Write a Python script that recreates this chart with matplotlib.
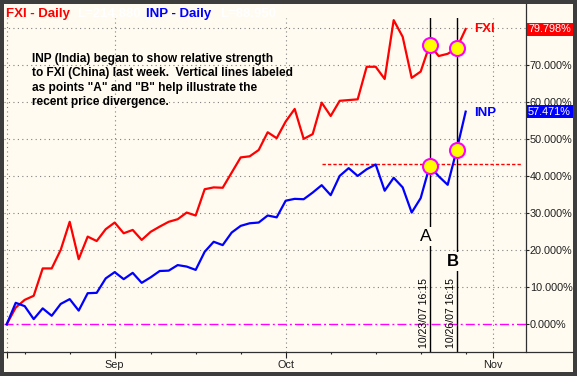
import matplotlib
matplotlib.use('Agg')
import matplotlib.pyplot as plt
import matplotlib.transforms as mtransforms
from matplotlib.patches import Rectangle
from matplotlib.lines import Line2D

plt.rcParams['font.family'] = ['Liberation Sans', 'DejaVu Sans']

# % change since 8/16/07, one value per trading day (8/16/07 .. 10/29/07)
fxi = [0.0, 4.5, 6.6, 7.7, 15.1, 15.1, 20.1, 27.7, 17.6, 23.7,
       22.5, 25.7, 27.5, 24.6, 25.5, 22.8, 25.0, 26.4, 27.7, 28.4,
       30.2, 29.4, 36.5, 37.0, 36.9, 41.0, 45.1, 45.4, 47.1, 51.9,
       50.3, 54.8, 58.2, 50.1, 51.4, 59.9, 56.3, 60.4, 60.6, 60.8,
       69.6, 69.6, 66.3, 82.2, 77.7, 66.6, 68.3, 75.5, 72.5, 73.1,
       74.6, 79.798]
inp = [0.0, 5.8, 4.9, 1.4, 4.3, 2.3, 5.5, 6.8, 3.7, 8.4,
       8.5, 12.4, 14.1, 12.2, 13.9, 11.2, 12.7, 14.4, 14.5, 16.0,
       15.6, 14.7, 19.6, 22.3, 21.4, 24.8, 26.6, 27.3, 27.5, 29.4,
       28.9, 33.4, 33.9, 33.8, 35.6, 37.6, 34.9, 40.1, 42.2, 40.1,
       41.9, 43.2, 36.1, 39.6, 37.0, 30.2, 34.1, 42.8, 40.0, 37.7,
       47.1, 57.471]

month_pos = [12, 31, 54]
month_labels = ['Sep', 'Oct', 'Nov']
week_pos = [2, 7, 16, 21, 26, 36, 41, 46, 51]
y_ticks = [0, 10, 20, 30, 40, 50, 60, 70, 80]

point_a = 47
point_b = 50
date_a = '10/23/07 16:15'
date_b = '10/26/07 16:15'
resistance = 43.2

cream = '#fffbf0'
border = '#3d3d3d'
W, H = 577, 376

fig = plt.figure(figsize=(W / 100, H / 100), dpi=100, facecolor=border)
fig.patches.append(Rectangle((4 / W, 4 / H), 569 / W, 368 / H, transform=fig.transFigure,
                             facecolor=cream, edgecolor='none', zorder=-5))

ax = fig.add_axes([4 / W, 24 / H, 521.7 / W, 334 / H])
ax.set_facecolor(cream)
for s in ax.spines.values():
    s.set_visible(False)

x = list(range(len(fxi)))
ax.set_xlim(-0.3, 57.67)
ax.set_ylim(-7.49, 82.78)

# grid
for v in y_ticks[1:]:
    ax.axhline(v, color='#808080', lw=0.8, ls=(0, (1, 3)), zorder=1)
for p in [0] + month_pos:
    ax.axvline(p, color='#808080', lw=0.8, ls=(0, (1, 3)), zorder=1)

ax.axhline(0, color='#ff00ff', lw=1.0, ls=(0, (6.5, 2.2, 1.4, 2.2)), zorder=2)

ax.plot(x, fxi, color='#ff0000', lw=1.6, zorder=4)
ax.plot(x, inp, color='#0000ff', lw=1.6, zorder=4)

ax.hlines(resistance, 35, 57.3, colors='#ff0000', lw=1.0, linestyles=(0, (2.4, 1.5)), zorder=3)

for p, label, weight, ylab, fs in [(point_a, 'A', 'normal', 23.7, 12.5),
                                     (point_b, 'B', 'bold', 16.9, 12)]:
    ax.axvline(p, color='black', lw=1.0, zorder=5)
    ax.text(p - 0.45, ylab, label, fontsize=fs, fontweight=weight, ha='center', va='center',
            zorder=6, bbox=dict(facecolor=cream, edgecolor='none', pad=1.5))

ax.text(point_a - 0.6, -6.5, date_a, rotation=90, fontsize=7.6, ha='center', va='bottom', zorder=6)
ax.text(point_b - 0.6, -6.5, date_b, rotation=90, fontsize=7.6, ha='center', va='bottom', zorder=6)

for p in [point_a, point_b]:
    ax.plot([p, p], [fxi[p], inp[p]], ls='none', marker='o', ms=10.8, mfc='#ffff00',
            mec='#ff00ff', mew=1.5, zorder=7)

ax.text(51.9, fxi[-1], 'FXI', color='#ff0000', fontsize=9.5, fontweight='bold', ha='left', va='center')
ax.text(51.9, inp[-1] - 0.3, 'INP', color='#0000ff', fontsize=9.5, fontweight='bold', ha='left', va='center')

# ticks (80% label sits under the FXI value box)
ax.yaxis.tick_right()
ax.set_yticks(y_ticks)
ax.set_yticklabels(['%.3f%%' % v if v < 80 else '' for v in y_ticks])
ax.tick_params(axis='y', length=2.5, width=0.8, color='#202020', labelsize=7.8,
               labelcolor='#202020', pad=0.5)
ax.set_xticks([0] + month_pos)
ax.set_xticklabels([''] + month_labels)
ax.set_xticks(week_pos, minor=True)
ax.tick_params(axis='x', which='major', length=4, width=0.8, color='#202020', labelsize=7.8,
               labelcolor='#202020', pad=1.5)
ax.tick_params(axis='x', which='minor', length=1.6, width=0.8, color='#202020')

# axis lines
fig.lines.append(Line2D([4 / W, 573 / W], [1 - 352 / H, 1 - 352 / H], transform=fig.transFigure,
                        color='#303030', lw=0.9))
fig.lines.append(Line2D([525.7 / W, 525.7 / W], [1 - 4 / H, 1 - 352 / H], transform=fig.transFigure,
                        color='#303030', lw=0.9))

# value boxes
bt = mtransforms.blended_transform_factory(fig.transFigure, ax.transData)
for val, col in [(fxi[-1], '#ff0000'), (inp[-1], '#0000ff')]:
    ax.add_patch(Rectangle((526 / W, val - 1.76), 46.7 / W, 3.52, transform=bt, facecolor=col,
                           edgecolor='none', clip_on=False, zorder=8))
    ax.text(549.5 / W, val, '%.3f%%' % val, transform=bt, color='white', fontsize=7.8,
            ha='center', va='center', clip_on=False, zorder=9)

# header
def px(xp, yp):
    return xp / W, 1 - yp / H

fig.text(*px(6, 17), 'FXI - Daily', color='#ff0000', fontsize=9.5, fontweight='bold', va='baseline')
fig.text(*px(77, 17), 'L=214.880', color='white', fontsize=9.5, fontweight='bold', va='baseline')
fig.text(*px(146.5, 17), 'INP - Daily', color='#0000ff', fontsize=9.5, fontweight='bold', va='baseline')
fig.text(*px(220, 17), 'L=88.950', color='white', fontsize=9.5, fontweight='bold', va='baseline')

note = ['INP (India) began to show relative strength',
        'to FXI (China) last week.  Vertical lines labeled',
        'as points "A" and "B" help illustrate the',
        'recent price divergence.']
for k, line in enumerate(note):
    fig.text(*px(32.3, 61.7 + 14.6 * k), line, fontsize=8.6, fontweight='bold', va='baseline')

fig.savefig('out.png', dpi=100, facecolor=border)
